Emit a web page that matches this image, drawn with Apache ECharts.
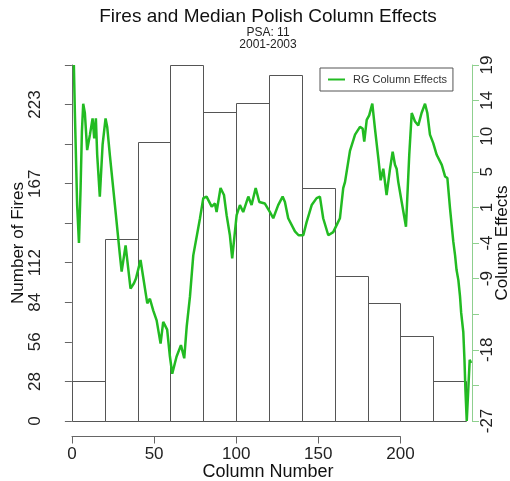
<!DOCTYPE html>
<html>
<head>
<meta charset="utf-8">
<script src="https://cdn.jsdelivr.net/npm/echarts@6/dist/echarts.min.js"></script>
<style>
  html, body { margin: 0; padding: 0; background: #ffffff; }
  #chart { width: 510px; height: 481px; }
</style>
</head>
<body>
<div id="chart"></div>
<script>
// Histogram of fires per column bin (bin edges and counts)
const binEdges = [0, 20, 40, 60, 80, 100, 120, 140, 160, 180, 200, 220, 240];
const fireCounts = [28, 128, 197, 251, 218, 224, 244, 164, 102, 83, 60, 28];

// Median polish column effects (column number, effect)
const effectColumns = [
  1.2, 1.8, 3.2, 4.3, 5.3, 6.1, 6.9, 7.9, 9.3, 11.0, 12.6, 13.6, 14.6, 15.4, 17.0, 18.7,
  20.5, 21.5, 23.1, 26.2, 29.2, 30.3, 32.7, 35.7, 37.8, 39.0, 41.8, 43.4, 45.9, 47.5, 49.5,
  51.6, 54.0, 55.6, 58.0, 59.7, 61.1, 63.7, 66.4, 68.4, 69.9, 71.9, 73.9, 75.0, 78.0, 80.0,
  82.0, 85.1, 87.1, 88.1, 90.5, 92.6, 94.2, 96.2, 97.6, 100.3, 102.3, 104.3, 107.4, 109.4,
  111.9, 114.1, 117.5, 120.6, 122.6, 125.6, 128.3, 129.7, 131.7, 135.8, 138.0, 140.9, 142.9,
  146.0, 149.0, 151.0, 153.0, 156.1, 159.1, 161.6, 163.2, 165.2, 166.3, 169.3, 172.4, 175.4,
  177.0, 178.0, 179.5, 181.0, 182.9, 184.5, 186.6, 188.0, 189.6, 191.6, 193.7, 195.3, 196.7,
  197.7, 198.7, 200.8, 203.4, 205.4, 206.9, 208.9, 210.9, 212.9, 215.0, 216.4, 218.0, 220.0,
  222.1, 225.2, 227.2, 228.6, 230.2, 232.2, 233.3, 234.2, 235.3, 236.3, 237.0, 238.3, 239.0,
  239.6, 240.4, 241.4, 242.2, 243.0
];
const effectValues = [
  19.0, 13.0, 0.9, -4.0, 3.1, 10.4, 14.0, 12.8, 8.0, 10.0, 12.1, 9.5, 12.1, 7.4, 2.0, 8.7,
  12.1, 11.0, 7.4, 0.9, -5.5, -7.7, -4.3, -9.9, -9.2, -8.6, -6.2, -8.4, -11.8, -11.2, -12.7,
  -14.0, -17.0, -14.2, -15.2, -18.7, -20.9, -18.7, -17.2, -18.9, -14.8, -10.9, -5.6, -5.8, -0.8, 1.8,
  2.0, 0.7, 1.1, 0.0, 3.1, 2.2, -0.4, -3.0, -6.0, -0.4, 0.9, 0.0, 2.0, 0.9,
  3.1, 1.3, 1.1, 0.0, -0.8, 0.9, 2.0, 1.3, -0.8, -2.5, -3.0, -3.0, -1.3,
  0.9, 1.8, 2.0, -0.8, -3.0, -2.6, -1.5, -0.8, 3.1, 3.9, 7.9, 10.0, 11.0,
  10.8, 9.1, 11.9, 12.5, 14.0, 10.8, 6.9, 4.1, 5.6, 2.2, 5.6, 7.8, 6.1,
  5.6, 3.9, 1.3, -1.9, 7.4, 12.8, 11.7, 11.2, 12.8, 14.0, 12.8, 10.0, 8.9,
  7.4, 6.1, 4.6, 4.4, 0.5, -3.8, -5.6, -7.5, -8.8, -10.9, -13.0, -15.5, -19.0,
  -23.0, -27.0, -22.6, -19.1, -19.5
];

// Axis tick values and their printed labels
const xTickValues = [0, 50, 100, 150, 200];
const leftTickValues = [0, 27.9, 55.8, 83.7, 111.6, 139.4, 167.3, 195.2, 223.1, 251];
const leftTickLabels = ['0', '28', '56', '84', '112', '', '167', '', '223', ''];
const rightTickValues = [-27, -22.4, -17.8, -13.2, -8.6, -4, 0.6, 5.2, 9.8, 14.4, 19];
const rightTickLabels = ['-27', '', '-18', '', '-9', '-4', '1', '5', '10', '14', '19'];

const FONT = "'Liberation Sans', Arial, Helvetica, sans-serif";
const LINE_GREEN = '#22bb22';

function labelFor(values, labels) {
  return function (v) {
    let best = 0;
    for (let i = 1; i < values.length; i++) {
      if (Math.abs(values[i] - v) < Math.abs(values[best] - v)) best = i;
    }
    return labels[best];
  };
}

const bins = fireCounts.map((c, i) => [binEdges[i], binEdges[i + 1], c]);
const effects = effectColumns.map((x, i) => [x, effectValues[i]]);

const chart = echarts.init(document.getElementById('chart'), null, { renderer: 'canvas' });

chart.setOption({
  animation: false,
  backgroundColor: '#ffffff',
  textStyle: { fontFamily: FONT },
  graphic: [
    { type: 'text', x: 268, y: 17, style: { text: 'Fires and Median Polish Column Effects', font: '19px ' + FONT, fill: '#111', align: 'center', verticalAlign: 'middle' } },
    { type: 'text', x: 268, y: 33, style: { text: 'PSA: 11', font: '12px ' + FONT, fill: '#222', align: 'center', verticalAlign: 'middle' } },
    { type: 'text', x: 268, y: 45, style: { text: '2001-2003', font: '12px ' + FONT, fill: '#222', align: 'center', verticalAlign: 'middle' } },
    { type: 'text', x: 268, y: 472, style: { text: 'Column Number', font: '18px ' + FONT, fill: '#111', align: 'center', verticalAlign: 'middle' } }
  ],
  legend: {
    left: 320,
    top: 68,
    orient: 'horizontal',
    data: [{ name: 'RG Column Effects', icon: 'rect' }],
    itemWidth: 17,
    itemHeight: 2,
    padding: [6, 6, 6, 8],
    borderColor: '#555',
    borderWidth: 1,
    borderRadius: 0,
    backgroundColor: '#fff',
    textStyle: { fontSize: 11, color: '#333', fontFamily: FONT, padding: [0, 0, 0, 3] }
  },
  grid: [
    { left: 53, right: 38, top: 65, bottom: 60, containLabel: false, outerBoundsMode: 'none' },
    { left: 72, width: 328.4, top: 435.5, height: 1, containLabel: false, outerBoundsMode: 'none' }
  ],
  xAxis: [
    { type: 'value', gridIndex: 0, min: -11.5, max: 243.6, show: false },
    {
      type: 'value', gridIndex: 1, min: 0, max: 200, interval: 50,
      axisLine: { show: true, lineStyle: { color: '#666', width: 1 } },
      axisTick: { show: true, length: 7, lineStyle: { color: '#666' }, customValues: xTickValues },
      axisLabel: { fontSize: 17, color: '#222', margin: 9, fontFamily: FONT, customValues: xTickValues },
      splitLine: { show: false }
    }
  ],
  yAxis: [
    {
      type: 'value', gridIndex: 0, position: 'left', min: 0, max: 251,
      name: 'Number of Fires', nameLocation: 'middle', nameRotate: 90, nameGap: 26,
      nameMoveOverlap: false,
      nameTextStyle: { fontSize: 17, color: '#111', fontFamily: FONT },
      axisLine: { show: true, lineStyle: { color: '#666', width: 1 } },
      axisTick: { show: true, length: 7, lineStyle: { color: '#666' }, customValues: leftTickValues },
      axisLabel: {
        fontSize: 17, color: '#222', margin: 9, rotate: 90, fontFamily: FONT,
        customValues: leftTickValues, formatter: labelFor(leftTickValues, leftTickLabels)
      },
      splitLine: { show: false }
    },
    {
      type: 'value', gridIndex: 0, position: 'right', min: -27, max: 19,
      name: 'Column Effects', nameLocation: 'middle', nameRotate: 90, nameGap: 22,
      nameMoveOverlap: false,
      nameTextStyle: { fontSize: 17, color: '#111', fontFamily: FONT },
      axisLine: { show: true, lineStyle: { color: '#8fd08f', width: 1 } },
      axisTick: { show: true, length: 7, lineStyle: { color: '#8fd08f' }, customValues: rightTickValues },
      axisLabel: {
        fontSize: 17, color: '#222', margin: 7, rotate: 90, fontFamily: FONT,
        customValues: rightTickValues, formatter: labelFor(rightTickValues, rightTickLabels)
      },
      splitLine: { show: false }
    },
    { type: 'value', gridIndex: 1, show: false, min: 0, max: 1 }
  ],
  series: [
    {
      name: 'Fires',
      type: 'custom',
      xAxisIndex: 0,
      yAxisIndex: 0,
      data: bins,
      encode: { x: [0, 1], y: 2 },
      renderItem: function (params, api) {
        const topLeft = api.coord([api.value(0), api.value(2)]);
        const bottomRight = api.coord([api.value(1), 0]);
        return {
          type: 'rect',
          shape: {
            x: Math.round(topLeft[0]) + 0.5,
            y: Math.round(topLeft[1]) + 0.5,
            width: Math.round(bottomRight[0]) - Math.round(topLeft[0]),
            height: Math.round(bottomRight[1]) - Math.round(topLeft[1])
          },
          style: { fill: 'none', stroke: '#555', lineWidth: 1 }
        };
      },
      z: 1
    },
    {
      name: 'RG Column Effects',
      type: 'line',
      xAxisIndex: 0,
      yAxisIndex: 1,
      data: effects,
      showSymbol: false,
      symbol: 'none',
      clip: false,
      lineStyle: { color: LINE_GREEN, width: 2.5 },
      itemStyle: { color: LINE_GREEN },
      z: 3
    }
  ]
});
</script>
</body>
</html>
